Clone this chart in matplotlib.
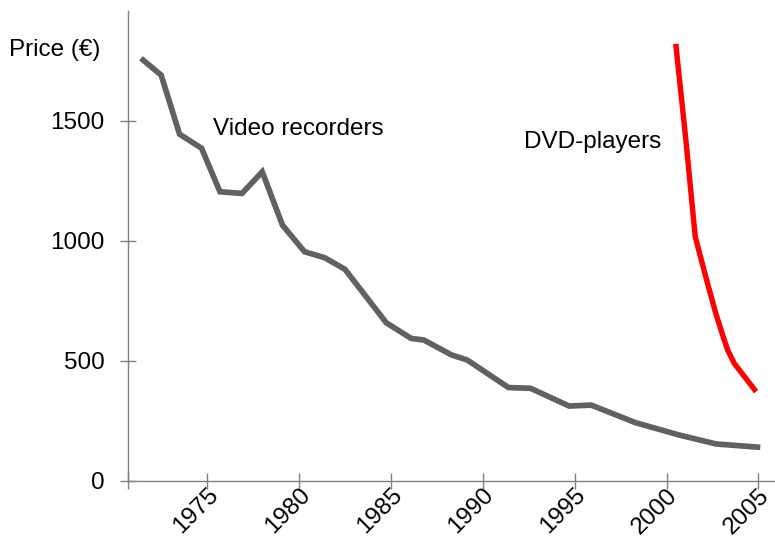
import matplotlib.pyplot as plt

plt.rcParams["font.family"] = ["Liberation Sans", "DejaVu Sans"]

# ========= data =========
vcr_year = [1971.4, 1972.5, 1973.5, 1974.7, 1975.7, 1976.9, 1978.0, 1979.1,
            1980.3, 1981.4, 1982.5, 1984.75, 1986.1, 1986.8, 1988.3, 1989.15,
            1991.4, 1992.6, 1994.7, 1995.9, 1998.3, 2000.7, 2002.7, 2005.1]
vcr_price = [1760, 1690, 1444, 1385, 1204, 1197, 1287, 1065,
             954, 929, 881, 658, 593, 586, 524, 503,
             388, 385, 311, 315, 242, 190, 153, 139]

dvd_year = [2000.5, 2001.05, 2001.56, 2001.87, 2002.23, 2002.68, 2003.05,
            2003.32, 2003.68, 2004.87]
dvd_price = [1820, 1420, 1017, 926, 822, 697, 607, 545, 489, 371]

x_ticks = [1975, 1980, 1985, 1990, 1995, 2000, 2005]
y_ticks = [0, 500, 1000, 1500]

AXIS_GREY = "#808080"
FS = 17.5

# ========= figure =========
fig = plt.figure(figsize=(7.75, 5.38), dpi=100)
ax = fig.add_axes([127.7 / 775, 57.3 / 538, 1 - 127.7 / 775, (480.7 - 11) / 538])

ax.plot(vcr_year, vcr_price, color="#616161", lw=4.1, solid_joinstyle="miter",
        solid_capstyle="butt", clip_on=False)
ax.plot(dvd_year, dvd_price, color="#ff0000", lw=3.9, solid_joinstyle="round",
        solid_capstyle="butt", clip_on=False)

ax.set_xlim(1970.68, 2005.9)
ax.set_ylim(0, 1957)

ax.set_xticks(x_ticks)
ax.set_xticks([1970.68], minor=True)
ax.set_yticks(y_ticks)
ax.set_xticklabels([str(t) for t in x_ticks], rotation=45, ha="right",
                   va="top", rotation_mode="anchor")

for s in ["top", "right"]:
    ax.spines[s].set_visible(False)
for s in ["left", "bottom"]:
    ax.spines[s].set_color(AXIS_GREY)
    ax.spines[s].set_linewidth(1.0)

ax.tick_params(axis="both", which="both", direction="inout", length=11,
               width=1.0, color=AXIS_GREY, labelsize=FS, labelcolor="black")
ax.tick_params(axis="y", pad=11)
ax.tick_params(axis="x", pad=-3)

ax.text(1975.33, 1465, "Video recorders", fontsize=FS, va="center", ha="left")
ax.text(1992.27, 1411, "DVD-players", fontsize=FS, va="center", ha="left")
fig.text(100 / 775, 1 - 50 / 538, "Price (€)", fontsize=FS, ha="right", va="center")

fig.savefig("out.png", dpi=100)
